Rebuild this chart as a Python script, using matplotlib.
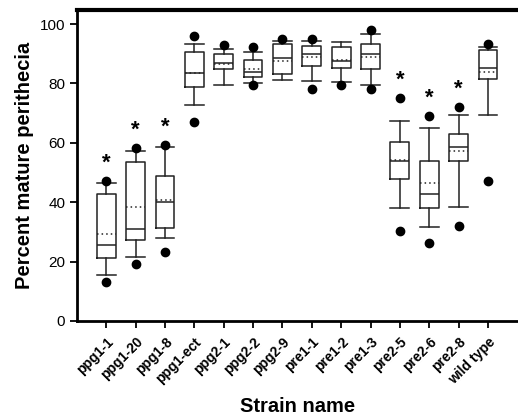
import matplotlib
matplotlib.use('Agg')
import matplotlib.pyplot as plt

plt.rcParams['font.family'] = ['Liberation Sans', 'DejaVu Sans']

strains = ['ppg1-1', 'ppg1-20', 'ppg1-8', 'ppg1-ect', 'ppg2-1', 'ppg2-2', 'ppg2-9',
           'pre1-1', 'pre1-2', 'pre1-3', 'pre2-5', 'pre2-6', 'pre2-8', 'wild type']
q1 = [21.2, 27.3, 31.4, 78.9, 85.0, 82.3, 83.3, 85.7, 85.3, 84.7, 47.9, 38.1, 54.0, 81.6]
med = [25.6, 31.0, 40.1, 83.6, 87.0, 84.0, 88.7, 90.0, 87.7, 90.0, 54.0, 42.8, 58.6, 85.3]
q3 = [42.8, 53.6, 48.9, 90.7, 90.0, 88.0, 93.4, 92.7, 92.4, 93.4, 60.4, 54.0, 62.9, 91.1]
mean = [29.3, 38.5, 40.8, 83.5, 86.7, 85.0, 87.7, 89.0, 88.0, 89.0, 54.2, 46.3, 57.1, 84.0]
whislo = [15.5, 21.6, 28.0, 72.8, 79.3, 80.3, 81.3, 80.9, 80.6, 79.6, 38.1, 31.8, 38.5, 69.5]
whishi = [46.5, 57.3, 58.7, 93.4, 91.7, 90.7, 94.4, 94.4, 94.1, 96.8, 67.5, 65.0, 69.4, 92.4]
fliers = [[13.2, 47.2], [19.2, 58.4], [23.3, 59.4], [67.1, 96.1], [93.1], [79.3, 92.1],
          [95.1], [78.2, 95.1], [79.3], [78.2, 98.1], [30.4, 75.2], [26.2, 69.1],
          [32.1, 72.2], [47.2, 93.4]]
significant = [0, 1, 2, 10, 11, 12]

stats = []
for i, name in enumerate(strains):
    stats.append(dict(label=name, q1=q1[i], med=med[i], q3=q3[i], mean=mean[i],
                      whislo=whislo[i], whishi=whishi[i], fliers=fliers[i]))

fig = plt.figure(figsize=(5.18, 4.19), dpi=100)
ax = fig.add_axes([0.1486, 0.234, 0.85, 0.742])

lw = 1.1
ax.bxp(stats, positions=range(len(strains)), widths=0.64, showmeans=True, meanline=True,
       boxprops=dict(color='#222222', linewidth=lw),
       medianprops=dict(color='#222222', linewidth=lw),
       whiskerprops=dict(color='#222222', linewidth=lw),
       capprops=dict(color='#222222', linewidth=lw),
       capwidths=0.64,
       meanprops=dict(color='#222222', linestyle=(0, (1, 2)), linewidth=lw),
       flierprops=dict(marker='o', markerfacecolor='black', markeredgecolor='black',
                       markersize=6))

for i in significant:
    ax.annotate('*', (i, max(fliers[i])), xytext=(0, 5), textcoords='offset points',
                ha='center', va='bottom', fontsize=16, fontweight='bold')

ax.set_xlim(-1, 14)
ax.set_ylim(0, 104.7)
ax.set_yticks([0, 20, 40, 60, 80, 100])
ax.set_xticks(range(len(strains)))
ax.set_xticklabels(strains, rotation=45, ha='right', rotation_mode='anchor',
                   fontsize=10, fontweight='bold')
ax.tick_params(axis='y', labelsize=11, width=1.3, length=5)
ax.tick_params(axis='x', width=1.3, length=5, pad=5)

ax.spines['top'].set_linewidth(3)
ax.spines['left'].set_linewidth(2)
ax.spines['bottom'].set_linewidth(2)
ax.spines['right'].set_visible(False)

ax.set_xlabel('Strain name', fontsize=14.5, fontweight='bold', labelpad=7)
ax.set_ylabel('Percent mature perithecia', fontsize=14.5, fontweight='bold')

fig.savefig('out.png', dpi=100)
